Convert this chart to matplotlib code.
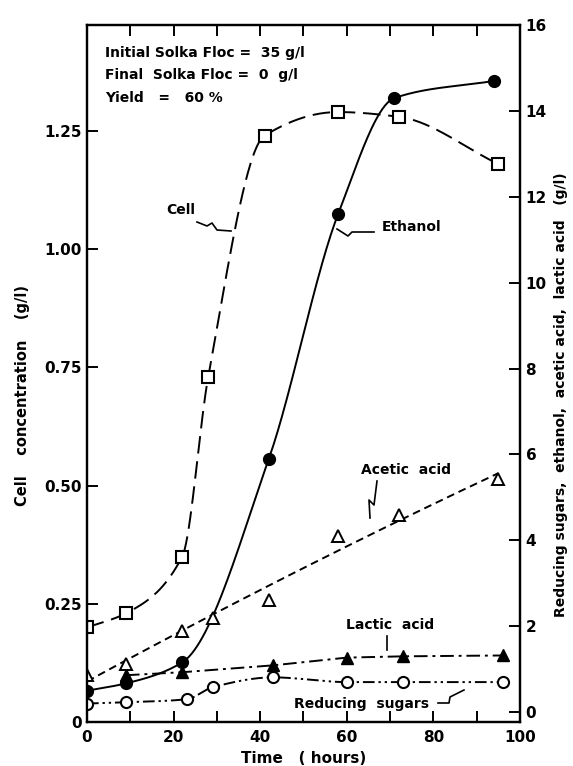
import numpy as np
import matplotlib
matplotlib.use('Agg')
import matplotlib.pyplot as plt
from matplotlib.ticker import MultipleLocator, FixedLocator

# Data
# Cell (left axis, g/l)
tCell = [0, 9, 22, 28, 41, 58, 72, 95]
cell = [0.20, 0.23, 0.35, 0.73, 1.24, 1.29, 1.28, 1.18]

# Right axis (g/l)
tEth = [0, 9, 22, 42, 58, 71, 94]
ethanol = [0.5, 0.67, 1.16, 5.9, 11.6, 14.3, 14.7]

tAce = [0, 9, 22, 29, 42, 58, 72, 95]
acetic = [0.86, 1.13, 1.9, 2.2, 2.6, 4.1, 4.6, 5.43]

tLac = [9, 22, 43, 60, 73, 96]
lactic = [0.86, 0.93, 1.09, 1.27, 1.3, 1.32]

tSug = [0, 9, 23, 29, 43, 60, 73, 96]
sugars = [0.2, 0.23, 0.3, 0.58, 0.81, 0.7, 0.7, 0.7]

xTicks = [0, 20, 40, 60, 80, 100]
leftTicks = [0, 0.25, 0.50, 0.75, 1.00, 1.25]
leftLabels = ['0', '0.25', '0.50', '0.75', '1.00', '1.25']
rightTicks = [0, 2, 4, 6, 8, 10, 12, 14, 16]


# Monotone cubic (pchip) curve through the measured points, for smooth lines
def pchip(x, y, xn):
    x = np.asarray(x, float)
    y = np.asarray(y, float)
    h = np.diff(x)
    delta = np.diff(y) / h
    n = len(x)
    d = np.zeros(n)
    for k in range(1, n - 1):
        if delta[k-1] * delta[k] > 0:
            w1 = 2*h[k] + h[k-1]
            w2 = h[k] + 2*h[k-1]
            d[k] = (w1 + w2) / (w1/delta[k-1] + w2/delta[k])
    d[0] = delta[0]
    d[-1] = delta[-1]
    out = np.zeros(len(xn))
    for i, xv in enumerate(xn):
        k = min(max(np.searchsorted(x, xv) - 1, 0), n - 2)
        s = (xv - x[k]) / h[k]
        h00 = 2*s**3 - 3*s**2 + 1
        h10 = s**3 - 2*s**2 + s
        h01 = -2*s**3 + 3*s**2
        h11 = s**3 - s**2
        out[i] = h00*y[k] + h10*h[k]*d[k] + h01*y[k+1] + h11*h[k]*d[k+1]
    return out


plt.rcParams['font.family'] = 'DejaVu Sans'
plt.rcParams['font.weight'] = 'bold'

fig = plt.figure(figsize=(5.73, 7.66), dpi=100)
ax = fig.add_axes([0.1518, 0.0574, 0.7557, 0.9099])
ax2 = ax.twinx()

lw = 1.4
k = 'black'

# Cell - long dashes
xs = np.linspace(tCell[0], tCell[-1], 300)
ax.plot(xs, pchip(tCell, cell, xs), color=k, lw=lw, dashes=(9, 4))
ax.plot(tCell, cell, 's', ms=8, mfc='white', mec=k, mew=1.5, ls='none')

# Ethanol - solid
xs = np.linspace(tEth[0], tEth[-1], 300)
ax2.plot(xs, pchip(tEth, ethanol, xs), color=k, lw=lw)
ax2.plot(tEth, ethanol, 'o', ms=8.5, color=k, ls='none')

# Acetic acid - short dashes, smooth fit
fitA = np.poly1d(np.polyfit(tAce, acetic, 2))
xs = np.linspace(0, tAce[-1], 200)
ax2.plot(xs, fitA(xs), color=k, lw=lw, dashes=(4, 2.5))
ax2.plot(tAce, acetic, '^', ms=8, mfc='white', mec=k, mew=1.4, ls='none')

# Lactic acid - dash dot
ax2.plot(tLac, lactic, color=k, lw=lw, dashes=(7, 2.5, 1.5, 2.5))
ax2.plot(tLac, lactic, '^', ms=8, color=k, ls='none')

# Reducing sugars - dash dot dot
xs = np.linspace(tSug[0], tSug[-1], 300)
ax2.plot(xs, pchip(tSug, sugars, xs), color=k, lw=lw,
         dashes=(6, 2, 1.2, 2, 1.2, 2))
ax2.plot(tSug, sugars, 'o', ms=8, mfc='white', mec=k, mew=1.5, ls='none')

# Axes limits and ticks
ax.set_xlim(0, 100)
ax.set_ylim(0, 1.474)
ax2.set_ylim(-0.23, 15.88)

ax.xaxis.set_major_locator(FixedLocator(xTicks))
ax.xaxis.set_minor_locator(MultipleLocator(10))
ax.set_yticks(leftTicks)
ax.set_yticklabels(leftLabels)
ax2.set_yticks(rightTicks)

ax.tick_params(axis='x', which='both', direction='in', top=True, length=8, width=1.4,
               labelsize=11, pad=6)
ax.tick_params(axis='y', direction='in', right=False, length=8, width=1.4,
               labelsize=11, pad=4)
ax2.tick_params(axis='y', direction='in', length=8, width=1.4, labelsize=11, pad=4)

for a in (ax, ax2):
    for s in a.spines.values():
        s.set_linewidth(1.6)

ax.set_xlabel('Time   ( hours)', fontsize=11, fontweight='bold', labelpad=4)
ax.set_ylabel('Cell    concentration    (g/l)', fontsize=10.5, fontweight='bold')
ax.yaxis.set_label_coords(-0.132, 0.469)
ax2.set_ylabel('Reducing sugars,  ethanol,  acetic acid,  lactic acid   (g/l)',
               fontsize=10, fontweight='bold', rotation=90)
ax2.yaxis.set_label_coords(1.078, 0.469)


# Annotations (figure pixel positions converted to fraction)
def fp(px, py):
    return (px / 573.0, 1 - py / 766.0)


info = ['Initial Solka Floc =  35 g/l', 'Final  Solka Floc =  0  g/l', 'Yield   =   60 %']
for i, s in enumerate(info):
    fig.text(*fp(105, 53 + i * 22.5), s, fontsize=10, fontweight='bold', va='center')

fig.text(*fp(181, 210), 'Cell', fontsize=10, fontweight='bold', ha='center', va='center')
fig.text(*fp(412, 227), 'Ethanol', fontsize=10, fontweight='bold', ha='center', va='center')
fig.text(*fp(406, 470), 'Acetic  acid', fontsize=10, fontweight='bold', ha='center', va='center')
fig.text(*fp(390, 625), 'Lactic  acid', fontsize=10, fontweight='bold', ha='center', va='center')
fig.text(*fp(362, 704), 'Reducing  sugars', fontsize=10, fontweight='bold', ha='center', va='center')

# Leader squiggles
squiggles = [
    [(197, 222), (207, 226), (212, 223), (217, 230), (231, 231)],
    [(374, 232), (352, 232), (348, 236), (337, 229)],
    [(377, 481), (374, 505), (369, 500), (370, 518)],
    [(387, 636), (387, 650)],
    [(438, 703), (449, 703), (450, 697), (464, 690)],
]
for sq in squiggles:
    pts = np.array([fp(*p) for p in sq])
    fig.add_artist(plt.Line2D(pts[:, 0], pts[:, 1], color=k, lw=1.2,
                              transform=fig.transFigure))

fig.savefig('out.png', dpi=100)
